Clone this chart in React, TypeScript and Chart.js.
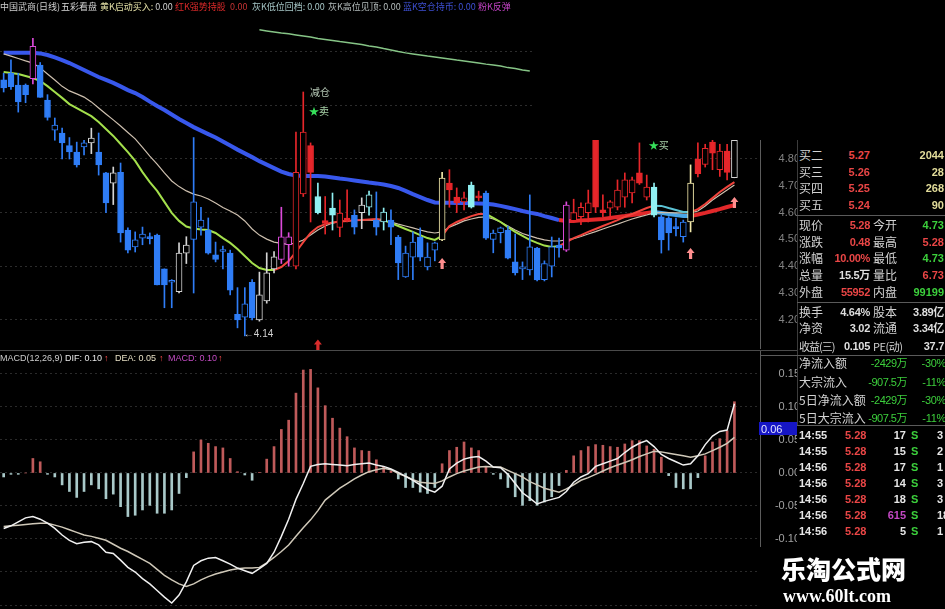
import React, { useEffect, useRef } from "react";
import { Chart, registerables } from "chart.js";

Chart.register(...registerables);
Chart.defaults.font.family = '"Liberation Sans", "Noto Sans CJK SC", sans-serif';

// ---------- daily candles, oldest first ----------
const OPEN = [
  5.095, 5.12, 5.076, 5.076, 5.1, 5.15, 5.02, 4.908, 4.897, 4.85,
  4.826, 4.845, 4.86, 4.826, 4.748, 4.71, 4.75, 4.535, 4.472, 4.505,
  4.507, 4.516, 4.39, 4.34, 4.305, 4.449, 4.5, 4.546, 4.535, 4.442,
  4.455, 4.449, 4.22, 4.21, 4.34, 4.2, 4.27, 4.39, 4.425, 4.48,
  4.4, 4.67, 4.85, 4.66, 4.57, 4.617, 4.545, 4.58, 4.59, 4.6,
  4.62, 4.572, 4.565, 4.572, 4.509, 4.36, 4.434, 4.509, 4.397, 4.46,
  4.498, 4.71, 4.658, 4.64, 4.703, 4.66, 4.673, 4.5, 4.525, 4.535,
  4.416, 4.39, 4.386, 4.468, 4.35, 4.4, 4.479, 4.46, 4.57, 4.585,
  4.6, 4.871, 4.61, 4.617, 4.62, 4.658, 4.673, 4.748, 4.658, 4.695,
  4.584, 4.58, 4.545, 4.51, 4.565, 4.8, 4.78, 4.863, 4.76, 4.83,
  4.73,
];
const HIGH = [
  5.12, 5.17, 5.12, 5.08, 5.25, 5.16, 5.04, 4.953, 4.915, 4.88,
  4.863, 4.87, 4.915, 4.897, 4.75, 4.77, 4.785, 4.543, 4.528, 4.546,
  4.524, 4.52, 4.39, 4.35, 4.487, 4.51, 4.88, 4.62, 4.58, 4.49,
  4.475, 4.46, 4.32, 4.32, 4.35, 4.378, 4.45, 4.455, 4.62, 4.525,
  4.9, 5.05, 4.86, 4.71, 4.66, 4.673, 4.647, 4.685, 4.61, 4.655,
  4.68, 4.677, 4.617, 4.61, 4.515, 4.475, 4.528, 4.543, 4.487, 4.49,
  4.75, 4.76, 4.692, 4.677, 4.714, 4.68, 4.68, 4.535, 4.546, 4.55,
  4.52, 4.416, 4.666, 4.47, 4.42, 4.509, 4.505, 4.64, 4.65, 4.636,
  4.684, 4.875, 4.666, 4.645, 4.722, 4.748, 4.733, 4.86, 4.74, 4.71,
  4.59, 4.585, 4.58, 4.572, 4.778, 4.86, 4.855, 4.87, 4.855, 4.855,
  4.87,
];
const LOW = [
  5.05, 5.06, 4.975, 5.01, 5.08, 5.03, 4.945, 4.87, 4.8, 4.8,
  4.77, 4.815, 4.82, 4.74, 4.6, 4.63, 4.49, 4.45, 4.453, 4.48,
  4.483, 4.33, 4.245, 4.245, 4.3, 4.41, 4.3, 4.516, 4.445, 4.416,
  4.39, 4.293, 4.17, 4.14, 4.2, 4.195, 4.262, 4.375, 4.41, 4.4,
  4.39, 4.66, 4.565, 4.595, 4.52, 4.535, 4.51, 4.565, 4.52, 4.54,
  4.59, 4.516, 4.535, 4.48, 4.35, 4.358, 4.35, 4.42, 4.386, 4.42,
  4.495, 4.62, 4.6, 4.61, 4.617, 4.645, 4.5, 4.45, 4.487, 4.427,
  4.367, 4.35, 4.367, 4.345, 4.345, 4.36, 4.434, 4.455, 4.565, 4.555,
  4.565, 4.6, 4.584, 4.585, 4.61, 4.62, 4.636, 4.705, 4.647, 4.584,
  4.449, 4.46, 4.513, 4.49, 4.528, 4.733, 4.77, 4.76, 4.735, 4.722,
  4.73,
];
const CLOSE = [
  5.065, 5.07, 5.013, 5.04, 5.22, 5.03, 4.955, 4.927, 4.86, 4.826,
  4.778, 4.86, 4.878, 4.778, 4.636, 4.748, 4.524, 4.46, 4.498, 4.52,
  4.503, 4.33, 4.33, 4.345, 4.449, 4.479, 4.64, 4.572, 4.449, 4.425,
  4.46, 4.311, 4.2, 4.26, 4.207, 4.293, 4.375, 4.435, 4.51, 4.51,
  4.75, 4.9, 4.75, 4.6, 4.56, 4.59, 4.598, 4.57, 4.546, 4.628,
  4.666, 4.546, 4.602, 4.546, 4.412, 4.449, 4.49, 4.434, 4.434, 4.487,
  4.729, 4.685, 4.636, 4.655, 4.62, 4.655, 4.505, 4.524, 4.543, 4.43,
  4.375, 4.395, 4.472, 4.349, 4.41, 4.472, 4.468, 4.628, 4.6, 4.62,
  4.636, 4.62, 4.6, 4.64, 4.684, 4.722, 4.722, 4.71, 4.695, 4.59,
  4.498, 4.524, 4.54, 4.565, 4.71, 4.745, 4.84, 4.822, 4.83, 4.75,
  4.87,
];
// five-colour candle groups: b blue, r red, p pink, c cyan, w grey, y yellow
const CANDLE_TONE = (
  "bbbbpbbbbb" + "bbwbbwbbbb" + "bbbbwwbbbb" + "bbbbbwwwpp" + "rrrcrcrrbw" +
  "cbcbbbbbbb" + "yrrrcrbbbb" + "bbbbbbbprr" + "rrrrrrrrrc" + "bbbbyrrrrr" + "w"
).split("");

// ---------- moving averages ----------
const MA_THICK = [
  5.196, 5.196, 5.196, 5.196, 5.196, 5.194, 5.188, 5.179, 5.169, 5.158,
  5.145, 5.132, 5.119, 5.106, 5.095, 5.084, 5.071, 5.057, 5.046, 5.031,
  5.014, 4.998, 4.983, 4.966, 4.949, 4.934, 4.919, 4.906, 4.893, 4.88,
  4.865, 4.85, 4.835, 4.821, 4.807, 4.792, 4.779, 4.766, 4.753, 4.744,
  4.738, 4.737, 4.737, 4.737, 4.735, 4.731, 4.727, 4.724, 4.72, 4.716,
  4.712, 4.709, 4.705, 4.699, 4.692, 4.681, 4.669, 4.658, 4.647, 4.638,
  4.637, 4.637, 4.636, 4.636, 4.635, 4.634, 4.633, 4.63, 4.625, 4.619,
  4.613, 4.606, 4.6, 4.595, 4.587, 4.58, 4.572, 4.569, 4.569, 4.571,
  4.572, 4.574, 4.576, 4.58, 4.584, 4.587, 4.591, 4.595, 4.599, 4.602,
  4.599, 4.595, 4.591, 4.587, 4.587, 4.593, 4.599, 4.606, 4.613, 4.621,
  4.628,
];
const MA_THICK_TONE = (
  "bbbbbbbbbb" + "bbbbbbbbbb" + "bbbbbbbbbb" + "bbbbbbbbbb" + "bbbbbbbbbb" +
  "bbbbbbbbbb" + "bbbbbbbbbb" + "bbbbbbrrrr" + "rrrrrrrrrc" + "ccccrrrrrr" + "r"
).split("");
const MA_MID = [
  5.192, 5.184, 5.175, 5.166, 5.158, 5.14, 5.117, 5.095, 5.071, 5.054,
  5.043, 5.031, 5.013, 4.99, 4.968, 4.946, 4.923, 4.899, 4.875, 4.843,
  4.811, 4.781, 4.748, 4.718, 4.697, 4.681, 4.669, 4.662, 4.651, 4.636,
  4.619, 4.606, 4.591, 4.569, 4.539, 4.516, 4.501, 4.49, 4.485, 4.481,
  4.487, 4.498, 4.516, 4.535, 4.55, 4.561, 4.567, 4.569, 4.571, 4.572,
  4.572, 4.571, 4.569, 4.565, 4.557, 4.55, 4.543, 4.535, 4.528, 4.524,
  4.528, 4.546, 4.557, 4.569, 4.576, 4.582, 4.584, 4.576, 4.565, 4.55,
  4.535, 4.522, 4.513, 4.505, 4.498, 4.494, 4.494, 4.498, 4.503, 4.511,
  4.52, 4.529, 4.539, 4.548, 4.557, 4.567, 4.576, 4.584, 4.591, 4.599,
  4.6, 4.6, 4.599, 4.599, 4.599, 4.606, 4.625, 4.647, 4.666, 4.684,
  4.703,
];
const MA_FAST = [
  5.125, 5.121, 5.117, 5.11, 5.102, 5.091, 5.072, 5.05, 5.028, 5.005,
  4.99, 4.975, 4.96, 4.938, 4.912, 4.886, 4.856, 4.826, 4.793, 4.751,
  4.714, 4.681, 4.64, 4.599, 4.569, 4.548, 4.541, 4.537, 4.535, 4.524,
  4.505, 4.487, 4.464, 4.438, 4.412, 4.393, 4.386, 4.386, 4.397, 4.419,
  4.453, 4.49, 4.524, 4.546, 4.557, 4.563, 4.567, 4.569, 4.571, 4.572,
  4.574, 4.576, 4.572, 4.561, 4.55, 4.539, 4.528, 4.516, 4.505, 4.498,
  4.513, 4.55, 4.565, 4.576, 4.587, 4.595, 4.595, 4.58, 4.565, 4.546,
  4.528, 4.513, 4.498, 4.487, 4.477, 4.472, 4.475, 4.49, 4.505, 4.516,
  4.528, 4.539, 4.55, 4.561, 4.572, 4.584, 4.595, 4.606, 4.617, 4.626,
  4.625, 4.617, 4.61, 4.602, 4.602, 4.613, 4.632, 4.654, 4.677, 4.696,
  4.714,
];
const MA_FAST_TONE = (
  "gggggggggg" + "gggggggggg" + "gggggggggg" + "gggggggrrr" + "rrrrrrrrrr" +
  "rrgggggggg" + "rrrrrrgggg" + "ggggggrrrr" + "rrrrrrrrrc" + "ccccrrrrrr" + "r"
).split("");
const MA_LONG_START = 35;
const MA_LONG = [
  5.282, 5.278, 5.274, 5.27, 5.267, 5.263, 5.259, 5.255, 5.25, 5.246,
  5.242, 5.238, 5.235, 5.231, 5.227, 5.222, 5.218, 5.212, 5.207, 5.201,
  5.196, 5.192, 5.188, 5.184, 5.181, 5.177, 5.173, 5.169, 5.166, 5.162,
  5.158, 5.154, 5.151, 5.147, 5.141, 5.138, 5.132, 5.128,
];

// ---------- MACD(12,26,9) ----------
const DIF = [
  -0.084, -0.08, -0.074, -0.068, -0.066, -0.07, -0.076, -0.084, -0.094, -0.102,
  -0.107, -0.105, -0.104, -0.109, -0.12, -0.122, -0.132, -0.143, -0.15, -0.16,
  -0.168, -0.178, -0.188, -0.197, -0.185, -0.165, -0.14, -0.133, -0.129, -0.128,
  -0.133, -0.138, -0.144, -0.148, -0.152, -0.145, -0.137, -0.12, -0.096, -0.07,
  -0.04, -0.016, 0.01, 0.013, 0.014, 0.013, 0.012, 0.011, 0.013, 0.014,
  0.015, 0.012, 0.01, 0.006, 0.001, -0.005, -0.011, -0.018, -0.025, -0.029,
  -0.02, 0.006, 0.015, 0.021, 0.024, 0.025, 0.018, 0.009, 0.008, -0.002,
  -0.016, -0.03, -0.038, -0.047, -0.043, -0.04, -0.037, -0.028, -0.014, -0.006,
  -0.001, 0.01, 0.014, 0.018, 0.022, 0.031, 0.039, 0.045, 0.049, 0.04,
  0.028, 0.022, 0.017, 0.012, 0.014, 0.026, 0.043, 0.056, 0.063, 0.065,
  0.105,
];
const DEA = [
  -0.081, -0.08, -0.079, -0.078, -0.077, -0.076, -0.076, -0.079, -0.082, -0.086,
  -0.09, -0.094, -0.096, -0.099, -0.102, -0.108, -0.114, -0.119, -0.125, -0.131,
  -0.137, -0.146, -0.155, -0.162, -0.168, -0.172, -0.168, -0.162, -0.157, -0.153,
  -0.15, -0.147, -0.145, -0.144, -0.144, -0.143, -0.136, -0.128, -0.119, -0.109,
  -0.096, -0.083, -0.071, -0.057, -0.041, -0.032, -0.023, -0.016, -0.009, -0.003,
  0.002, 0.005, 0.007, 0.005, -0.001, -0.005, -0.01, -0.014, -0.015, -0.016,
  -0.012, -0.006, -0.001, 0.003, 0.006, 0.009, 0.01, 0.009, 0.009, 0.004,
  -0.001, -0.006, -0.013, -0.018, -0.023, -0.026, -0.029, -0.024, -0.018, -0.011,
  -0.007, -0.002, 0.003, 0.008, 0.012, 0.016, 0.02, 0.025, 0.029, 0.033,
  0.032, 0.03, 0.028, 0.026, 0.024, 0.026, 0.029, 0.034, 0.039, 0.045,
  0.054,
];
const MACD_BAR = [
  -0.006, -0.002, -0.002, 0, 0.022, 0.017, -0.002, -0.006, -0.018, -0.028,
  -0.037, -0.028, -0.018, -0.024, -0.039, -0.032, -0.051, -0.066, -0.064, -0.056,
  -0.049, -0.061, -0.061, -0.056, -0.031, -0.007, 0.032, 0.05, 0.045, 0.04,
  0.038, 0.022, 0.002, -0.003, -0.011, 0.001, 0.021, 0.04, 0.066, 0.08,
  0.121, 0.156, 0.157, 0.129, 0.102, 0.083, 0.068, 0.055, 0.038, 0.034,
  0.033, 0.02, 0.01, 0.003, -0.009, -0.022, -0.022, -0.029, -0.031, -0.022,
  0.014, 0.034, 0.039, 0.047, 0.038, 0.034, 0.009, -0.002, -0.009, -0.022,
  -0.036, -0.049, -0.042, -0.049, -0.044, -0.036, -0.019, 0.004, 0.026, 0.034,
  0.04, 0.043, 0.042, 0.04, 0.039, 0.044, 0.049, 0.049, 0.041, 0.036,
  0.024, -0.004, -0.022, -0.024, -0.024, -0.007, 0.026, 0.047, 0.052, 0.064,
  0.108,
];

// ---------- signal notes on the price pane ----------
const NOTE_AT = [43, 43, 89.5];
const NOTE_PRICE = [5.05, 4.98, 4.852];
const NOTE_TEXT = ["减仓", "★卖", "★买"];
const ARROW_AT = [60, 94, 100, 43];
const ARROW_PRICE = [4.408, 4.446, 4.636, 4.104];
const ARROW_COLOR = ["#ff8e8e", "#ff8e8e", "#ff8e8e", "#d82c2c"];
const LOW_MARK_AT = 33;

// ---------- quote panel ----------
const BID_NAMES = ["买二", "买三", "买四", "买五"];
const BID_PRICES = ["5.27", "5.26", "5.25", "5.24"];
const BID_VOLUMES = ["2044", "28", "268", "90"];
const QUOTE_NAMES = ["现价", "涨跌", "涨幅", "总量", "外盘"];
const QUOTE_VALUES = ["5.28", "0.48", "10.00%", "15.5万", "55952"];
const QUOTE_VALUE_COLORS = ["#ea4646", "#ea4646", "#ea4646", "#dedede", "#ea4646"];
const QUOTE_NAMES_2 = ["今开", "最高", "最低", "量比", "内盘"];
const QUOTE_VALUES_2 = ["4.73", "5.28", "4.73", "6.73", "99199"];
const QUOTE_VALUE_COLORS_2 = ["#3ccf3c", "#ea4646", "#3ccf3c", "#ea4646", "#3ccf3c"];
const SHARE_NAMES = ["换手", "净资", "收益(三)"];
const SHARE_VALUES = ["4.64%", "3.02", "0.105"];
const SHARE_NAMES_2 = ["股本", "流通", "PE(动)"];
const SHARE_VALUES_2 = ["3.89亿", "3.34亿", "37.7"];
const FLOW_NAMES = ["净流入额", "大宗流入", "5日净流入额", "5日大宗流入"];
const FLOW_AMOUNTS = ["-2429万", "-907.5万", "-2429万", "-907.5万"];
const FLOW_SHARES = ["-30%", "-11%", "-30%", "-11%"];
const TRADE_TIMES = ["14:55", "14:55", "14:56", "14:56", "14:56", "14:56", "14:56", "14:55"];
const TRADE_PRICES = ["5.28", "5.28", "5.28", "5.28", "5.28", "5.28", "5.28", "5.28"];
const TRADE_VOLUMES = ["17", "15", "17", "14", "18", "615", "5", "8"];
const TRADE_COUNTS = ["3", "2", "1", "3", "3", "18", "1", "1"];

const CANDLE_COLORS: Record<string, string> = {
  b: "#2f7df6",
  r: "#e6262a",
  p: "#dc4ada",
  c: "#90f0f2",
  w: "#d4d4d4",
  y: "#f2e9aa",
};
const THICK_COLORS: Record<string, string> = { b: "#3858ec", r: "#e2282a", c: "#4aa6e6" };
const FAST_COLORS: Record<string, string> = { g: "#a4e04c", r: "#f0443c", c: "#5cc4d6" };

const SESSIONS = OPEN.length;
const SLOTS = SESSIONS + 3; // empty room right of the latest candle
const DAY_LABELS = Array.from({ length: SLOTS }, (_, i) => `D${i + 1}`);

const PRICE_MIN = 4.0948;
const PRICE_MAX = 5.3261;
const MACD_MIN = -0.20303;
const MACD_MAX = 0.18636;

const CJK = '"Noto Sans CJK SC", sans-serif';
const NUM = '"Liberation Sans", Arial, "Noto Sans CJK SC", sans-serif';

function drawUpArrow(ctx: CanvasRenderingContext2D, x: number, y: number, color: string) {
  ctx.fillStyle = color;
  ctx.beginPath();
  ctx.moveTo(x, y - 6);
  ctx.lineTo(x + 4, y - 1);
  ctx.lineTo(x + 1.6, y - 1);
  ctx.lineTo(x + 1.6, y + 5);
  ctx.lineTo(x - 1.6, y + 5);
  ctx.lineTo(x - 1.6, y - 1);
  ctx.lineTo(x - 4, y - 1);
  ctx.closePath();
  ctx.fill();
}

const priceMarks = {
  id: "priceMarks",
  afterDatasetsDraw(chart: any) {
    const { ctx } = chart;
    const xs = chart.scales.x;
    const ys = chart.scales.y;
    ctx.save();
    ctx.textBaseline = "middle";
    ctx.font = `10px ${CJK}`;
    NOTE_TEXT.forEach((t, k) => {
      const px = xs.getPixelForValue(NOTE_AT[k]);
      const py = ys.getPixelForValue(NOTE_PRICE[k]);
      if (t.startsWith("★")) {
        ctx.textAlign = "right";
        ctx.fillStyle = "#36e05a";
        ctx.fillText("★", px + 1, py);
        ctx.textAlign = "left";
        ctx.fillStyle = "#a6cfa6";
        ctx.fillText(t.slice(1), px + 1, py);
      } else {
        ctx.textAlign = "center";
        ctx.fillStyle = "#b4c6b4";
        ctx.fillText(t, px + 2, py);
      }
    });
    ARROW_AT.forEach((at, k) => {
      drawUpArrow(ctx, xs.getPixelForValue(at), ys.getPixelForValue(ARROW_PRICE[k]), ARROW_COLOR[k]);
    });
    const low = LOW[LOW_MARK_AT];
    ctx.font = `10px ${NUM}`;
    ctx.textAlign = "left";
    ctx.fillStyle = "#d0d0d0";
    ctx.fillText("←" + low.toFixed(2), xs.getPixelForValue(LOW_MARK_AT) - 1, ys.getPixelForValue(low) - 2);
    ctx.restore();
  },
};

function priceChart(canvas: HTMLCanvasElement) {
  const tone = (i: number) => CANDLE_COLORS[CANDLE_TONE[i]];
  const longLine = DAY_LABELS.map((_, i) =>
    i >= MA_LONG_START && i < MA_LONG_START + MA_LONG.length ? MA_LONG[i - MA_LONG_START] : null
  );
  return new Chart(canvas, {
    type: "bar",
    data: {
      labels: DAY_LABELS,
      datasets: [
        { type: "line", data: longLine, borderColor: "#86c486", borderWidth: 1.5, pointRadius: 0, order: 6 },
        {
          type: "line",
          data: MA_THICK,
          borderColor: THICK_COLORS.b,
          borderWidth: 4,
          pointRadius: 0,
          order: 5,
          segment: { borderColor: (c: any) => THICK_COLORS[MA_THICK_TONE[c.p0DataIndex]] },
        },
        { type: "line", data: MA_MID, borderColor: "#cdbfae", borderWidth: 1.2, pointRadius: 0, order: 4 },
        {
          type: "line",
          data: MA_FAST,
          borderColor: FAST_COLORS.g,
          borderWidth: 2,
          pointRadius: 0,
          order: 3,
          segment: { borderColor: (c: any) => FAST_COLORS[MA_FAST_TONE[c.p0DataIndex]] },
        },
        {
          type: "bar",
          data: LOW.map((l, i) => [l, HIGH[i]]),
          backgroundColor: LOW.map((_, i) => tone(i)),
          barThickness: 1,
          grouped: false,
          order: 2,
        },
        {
          type: "bar",
          data: OPEN.map((o, i) => [Math.min(o, CLOSE[i]), Math.max(o, CLOSE[i])]),
          backgroundColor: OPEN.map((o, i) => (CLOSE[i] < o ? tone(i) : "#000000")),
          borderColor: OPEN.map((_, i) => tone(i)),
          borderWidth: 1,
          borderSkipped: false,
          barThickness: 6,
          minBarLength: 2,
          grouped: false,
          order: 1,
        },
      ] as any,
    },
    options: {
      responsive: false,
      animation: false,
      events: [],
      layout: { padding: { top: 18, bottom: 2, left: 0, right: 0 } },
      plugins: { legend: { display: false }, tooltip: { enabled: false } },
      scales: {
        x: { type: "category", offset: true, display: false },
        y: {
          position: "right",
          min: PRICE_MIN,
          max: PRICE_MAX,
          afterFit: (s: any) => {
            s.width = 40;
            s.paddingTop = 0;
            s.paddingBottom = 0;
          },
          border: { display: true, color: "#5c5c5c", width: 1, dash: [2, 3] },
          grid: {
            drawTicks: false,
            color: (c: any) =>
              Math.round(c.tick.value * 10) % 2 === 0 ? "#2c2c2c" : "rgba(0,0,0,0)",
          },
          ticks: {
            stepSize: 0.1,
            includeBounds: false,
            crossAlign: "far",
            padding: 13,
            color: "#828282",
            font: { size: 11 },
            callback: (v: any) => (v > 4.15 && v < 5.25 ? Number(v).toFixed(2) : ""),
          },
        },
      },
    } as any,
    plugins: [priceMarks],
  });
}

function macdChart(canvas: HTMLCanvasElement) {
  return new Chart(canvas, {
    type: "bar",
    data: {
      labels: DAY_LABELS,
      datasets: [
        { type: "line", data: DIF, borderColor: "#f0f0f0", borderWidth: 1.5, pointRadius: 0, order: 0 },
        { type: "line", data: DEA, borderColor: "#cfc8b8", borderWidth: 1.5, pointRadius: 0, order: 1 },
        {
          type: "bar",
          data: MACD_BAR,
          backgroundColor: MACD_BAR.map((v) => (v >= 0 ? "#bf5a5a" : "#a9c9c9")),
          barThickness: 2,
          grouped: false,
          order: 2,
        },
      ] as any,
    },
    options: {
      responsive: false,
      animation: false,
      events: [],
      layout: { padding: { top: 0, bottom: 2, left: 0, right: 0 } },
      plugins: { legend: { display: false }, tooltip: { enabled: false } },
      scales: {
        x: { type: "category", offset: true, display: false },
        y: {
          position: "right",
          min: MACD_MIN,
          max: MACD_MAX,
          afterFit: (s: any) => {
            s.width = 40;
            s.paddingTop = 0;
            s.paddingBottom = 0;
          },
          border: { display: true, color: "#5c5c5c", width: 1, dash: [2, 3] },
          grid: { drawTicks: false, color: "#2a2a2a" },
          ticks: {
            stepSize: 0.05,
            includeBounds: false,
            crossAlign: "far",
            padding: 11,
            color: "#a2a2a2",
            font: { size: 11 },
            callback: (v: any) => {
              if (v < -0.125 || v > 0.175) return "";
              return Math.abs(v) < 1e-9 ? "0.00" : Number(v).toFixed(2);
            },
          },
        },
      },
    } as any,
  });
}

type TxtProps = {
  x?: number;
  right?: number;
  y: number;
  color: string;
  size?: number;
  bold?: boolean;
  font?: string;
  spacing?: number;
  children: React.ReactNode;
};

// one line of text centred on y
function Txt({ x, right, y, color, size = 11, bold = false, font = NUM, spacing = 0, children }: TxtProps) {
  const style: React.CSSProperties = {
    position: "absolute",
    top: y - 8,
    height: 16,
    lineHeight: "16px",
    fontSize: size,
    fontFamily: font,
    fontWeight: bold ? 700 : 400,
    letterSpacing: spacing,
    color,
    whiteSpace: "nowrap",
  };
  if (right !== undefined) style.right = 945 - right;
  else style.left = x;
  return <span style={style}>{children}</span>;
}

function Rule({ x, y, w, h, color }: { x: number; y: number; w: number; h: number; color: string }) {
  return <div style={{ position: "absolute", left: x, top: y, width: w, height: h, background: color }} />;
}

export default function App() {
  const priceRef = useRef<HTMLCanvasElement>(null);
  const macdRef = useRef<HTMLCanvasElement>(null);

  useEffect(() => {
    document.body.style.margin = "0";
    document.body.style.background = "#000";
    const a = priceChart(priceRef.current!);
    const b = macdChart(macdRef.current!);
    return () => {
      a.destroy();
      b.destroy();
    };
  }, []);

  const label = "#d2d2d2";
  const bidRows = [155, 171.7, 188.3, 205];
  const quoteRows = [225, 241.7, 258.3, 275, 291.7];
  const shareRows = [311.7, 328.3, 345.5];
  const flowRows = [363.3, 381.7, 400, 418.3];
  const tradeRows = [435, 450.5, 466.7, 482.7, 498.5, 514.5, 530.7, 551];

  return (
    <div style={{ position: "relative", width: 945, height: 609, background: "#000", overflow: "hidden" }}>
      <canvas ref={priceRef} width={800} height={350} style={{ position: "absolute", left: 0, top: 0, width: 800, height: 350 }} />
      <canvas ref={macdRef} width={800} height={259} style={{ position: "absolute", left: 0, top: 350, width: 800, height: 259 }} />

      {/* pane divider */}
      <Rule x={0} y={350} w={797} h={1} color="#4a4a4a" />

      {/* title line */}
      <div style={{ position: "absolute", left: 0, top: 0, width: 540, height: 14, background: "#000" }} />
      <Txt x={0} y={7} size={9} font={CJK} color="#cdcdcd">中国武商(日线)</Txt>
      <Txt x={61} y={7} size={9} font={CJK} color="#d8d8d8">五彩看盘</Txt>
      <Txt x={100} y={7} size={9} font={CJK} color="#e6e2a8">黄K启动买入: <span style={{ color: "#d0d0d0" }}>0.00</span></Txt>
      <Txt x={175} y={7} size={9} font={CJK} color="#dc2a2a">红K强势持股</Txt>
      <Txt x={230} y={7} size={9} font={CJK} color="#c83434">0.00</Txt>
      <Txt x={252} y={7} size={9} font={CJK} color="#a6c6c6">灰K低位回档: 0.00</Txt>
      <Txt x={328} y={7} size={9} font={CJK} color="#b4bcbc">灰K高位见顶: 0.00</Txt>
      <Txt x={403} y={7} size={9} font={CJK} color="#3e50d4">蓝K空仓持币: 0.00</Txt>
      <Txt x={478} y={7} size={9} font={CJK} color="#c444c6">粉K反弹</Txt>

      {/* masked corner above the quote panel */}
      <div style={{ position: "absolute", left: 535, top: 0, width: 410, height: 140, background: "#000" }} />

      {/* MACD legend */}
      <Txt x={0} y={358} size={9} color="#cccccc">MACD(12,26,9)</Txt>
      <Txt x={65} y={358} size={9} color="#e8e8e8">DIF: 0.10</Txt>
      <Txt x={104} y={358} size={9} color="#ff4c4c">↑</Txt>
      <Txt x={115} y={358} size={9} color="#e6dfc4">DEA: 0.05</Txt>
      <Txt x={159} y={358} size={9} color="#ff4c4c">↑</Txt>
      <Txt x={168} y={358} size={9} color="#c44cc4">MACD: 0.10</Txt>
      <Txt x={218} y={358} size={9} color="#ff4c4c">↑</Txt>

      {/* cursor value tag on the MACD axis */}
      <div style={{ position: "absolute", left: 759, top: 422, width: 40, height: 13, background: "#1616c6" }} />
      <Txt x={761} y={428.5} size={11} color="#e4e4ff">0.06</Txt>

      {/* quote panel */}
      <div style={{ position: "absolute", left: 797, top: 140, width: 148, height: 420, background: "#000" }} />
      <Rule x={797} y={140} w={1} h={285} color="#3c3c3c" />
      {BID_NAMES.map((n, k) => (
        <React.Fragment key={n}>
          <Txt x={799} y={bidRows[k]} size={12} font={CJK} color={label}>{n}</Txt>
          <Txt right={870} y={bidRows[k]} bold color="#ea4646">{BID_PRICES[k]}</Txt>
          <Txt right={944} y={bidRows[k]} bold color="#e2dc9a">{BID_VOLUMES[k]}</Txt>
        </React.Fragment>
      ))}
      <Rule x={797} y={215} w={148} h={1} color="#5a5a5a" />
      {QUOTE_NAMES.map((n, k) => (
        <React.Fragment key={n}>
          <Txt x={799} y={quoteRows[k]} size={12} font={CJK} color={label}>{n}</Txt>
          <Txt right={870} y={quoteRows[k]} bold color={QUOTE_VALUE_COLORS[k]} spacing={-0.3}>{QUOTE_VALUES[k]}</Txt>
          <Txt x={873} y={quoteRows[k]} size={12} font={CJK} color={label}>{QUOTE_NAMES_2[k]}</Txt>
          <Txt right={944} y={quoteRows[k]} bold color={QUOTE_VALUE_COLORS_2[k]}>{QUOTE_VALUES_2[k]}</Txt>
        </React.Fragment>
      ))}
      <Rule x={797} y={302} w={148} h={1} color="#5a5a5a" />
      {SHARE_NAMES.map((n, k) => (
        <React.Fragment key={n}>
          <Txt x={799} y={shareRows[k]} size={k === 2 ? 11 : 12} spacing={k === 2 ? -1 : 0} font={CJK} color={label}>{n}</Txt>
          <Txt right={870} y={shareRows[k]} bold color="#dedede" spacing={-0.3}>{SHARE_VALUES[k]}</Txt>
          <Txt x={873} y={shareRows[k]} size={k === 2 ? 11 : 12} spacing={k === 2 ? -0.5 : 0} font={CJK} color={label}>{SHARE_NAMES_2[k]}</Txt>
          <Txt right={944} y={shareRows[k]} bold color="#dedede" spacing={-0.3}>{SHARE_VALUES_2[k]}</Txt>
        </React.Fragment>
      ))}
      <Rule x={760} y={355} w={185} h={1} color="#5a5a5a" />
      {FLOW_NAMES.map((n, k) => (
        <React.Fragment key={n}>
          <Txt x={799} y={flowRows[k]} size={12} font={CJK} color={label}>{n}</Txt>
          <Txt right={907} y={flowRows[k]} size={11} spacing={-0.5} color="#3ccf3c">{FLOW_AMOUNTS[k]}</Txt>
          <Txt right={946} y={flowRows[k]} size={11} spacing={-0.3} color="#3ccf3c">{FLOW_SHARES[k]}</Txt>
        </React.Fragment>
      ))}
      <Rule x={797} y={425} w={148} h={1} color="#5a5a5a" />
      {TRADE_TIMES.map((t, k) => (
        <React.Fragment key={k}>
          <Txt x={799} y={tradeRows[k]} bold color="#e6e6e6">{t}</Txt>
          <Txt x={845} y={tradeRows[k]} bold color="#ea4646">{TRADE_PRICES[k]}</Txt>
          <Txt right={906} y={tradeRows[k]} bold color={TRADE_VOLUMES[k] === "615" ? "#c448c4" : "#e6e6e6"}>{TRADE_VOLUMES[k]}</Txt>
          <Txt x={911} y={tradeRows[k]} bold color="#3ccf3c">S</Txt>
          <Txt x={937} y={tradeRows[k]} bold color="#e6e6e6">{TRADE_COUNTS[k]}</Txt>
        </React.Fragment>
      ))}

      {/* site mark */}
      <div style={{ position: "absolute", left: 757, top: 547, width: 188, height: 62, background: "#000" }} />
      <div style={{ position: "absolute", left: 781, top: 553, fontFamily: CJK, fontWeight: 900, fontSize: 25, lineHeight: "30px", color: "#ffffff", whiteSpace: "nowrap" }}>乐淘公式网</div>
      <div style={{ position: "absolute", left: 783, top: 585, fontFamily: '"Liberation Serif", serif', fontWeight: 700, fontSize: 18, lineHeight: "22px", color: "#ffffff", whiteSpace: "nowrap" }}>www.60lt.com</div>
    </div>
  );
}
